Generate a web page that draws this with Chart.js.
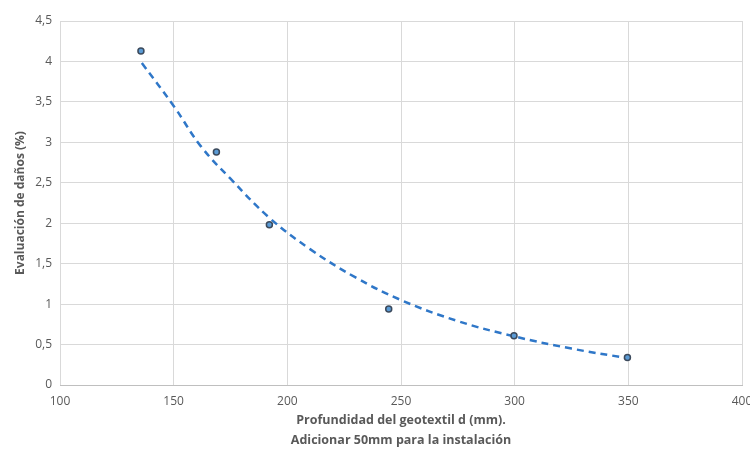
<!DOCTYPE html>
<html>
<head>
<meta charset="utf-8">
<script src="https://cdn.jsdelivr.net/npm/chart.js@4"></script>
<style>
  html, body { margin: 0; padding: 0; background: #fff; }
  #wrap { width: 750px; height: 452px; }
</style>
</head>
<body>
<div id="wrap"><canvas id="chart" width="750" height="452"></canvas></div>
<script>
// measured points
const depthValues = [135.6, 168.8, 192.1, 244.6, 299.7, 349.6];
const damageValues = [4.13, 2.88, 1.98, 0.94, 0.61, 0.34];

// dashed trend line
const trendDepth = [136, 150, 162, 175, 192, 210, 230, 250, 275, 300, 325, 350];
const trendDamage = [3.98, 3.45, 2.95, 2.55, 2.07, 1.68, 1.33, 1.05, 0.79, 0.6, 0.45, 0.33];

const xTitle = ["Profundidad del geotextil d (mm).", "Adicionar 50mm para la instalación"];
const yTitle = "Evaluación de daños (%)";

const points = depthValues.map((x, i) => ({ x: x, y: damageValues[i] }));
const trend = trendDepth.map((x, i) => ({ x: x, y: trendDamage[i] }));

const gray = "#595959";
const ctx = document.getElementById("chart");

new Chart(ctx, {
  type: "scatter",
  data: {
    datasets: [
      {
        label: "Tendencia",
        data: trend,
        showLine: true,
        borderColor: "#2f77c8",
        borderWidth: 2.5,
        borderDash: [7, 5],
        pointRadius: 0,
        tension: 0.4,
        fill: false,
        order: 2,
      },
      {
        label: "Datos",
        data: points,
        pointRadius: 3,
        pointBorderWidth: 1.5,
        backgroundColor: "#5b9bd5",
        borderColor: "#3c4a5c",
        order: 1,
      },
    ],
  },
  options: {
    responsive: false,
    animation: false,
    layout: { padding: { top: 21, right: 0, left: 13, bottom: 2 } },
    plugins: {
      legend: { display: false },
      tooltip: { enabled: false },
    },
    scales: {
      x: {
        type: "linear",
        min: 100,
        max: 400,
        afterFit: (scale) => {
          scale.height = 65;
          scale.paddingRight = 8;
        },
        ticks: {
          stepSize: 50,
          color: gray,
          font: { family: "Open Sans", size: 12 },
          padding: 9,
        },
        grid: { color: "#d9d9d9", drawTicks: false },
        border: { color: "#bfbfbf" },
        title: {
          display: true,
          text: xTitle,
          color: gray,
          font: { family: "Open Sans", size: 12.5, weight: "bold", lineHeight: 1.6 },
          padding: { top: 4, bottom: 0 },
        },
      },
      y: {
        min: 0,
        max: 4.5,
        afterFit: (scale) => { scale.width = 47; },
        ticks: {
          stepSize: 0.5,
          color: gray,
          font: { family: "Open Sans", size: 12 },
          padding: 8,
          callback: (v) => v.toString().replace(".", ","),
        },
        grid: { color: "#d9d9d9", drawTicks: false },
        border: { display: false },
        title: {
          display: true,
          text: yTitle,
          color: gray,
          font: { family: "Open Sans", size: 12, weight: "bold" },
          padding: { top: 0, bottom: 2 },
        },
      },
    },
  },
});
</script>
</body>
</html>
